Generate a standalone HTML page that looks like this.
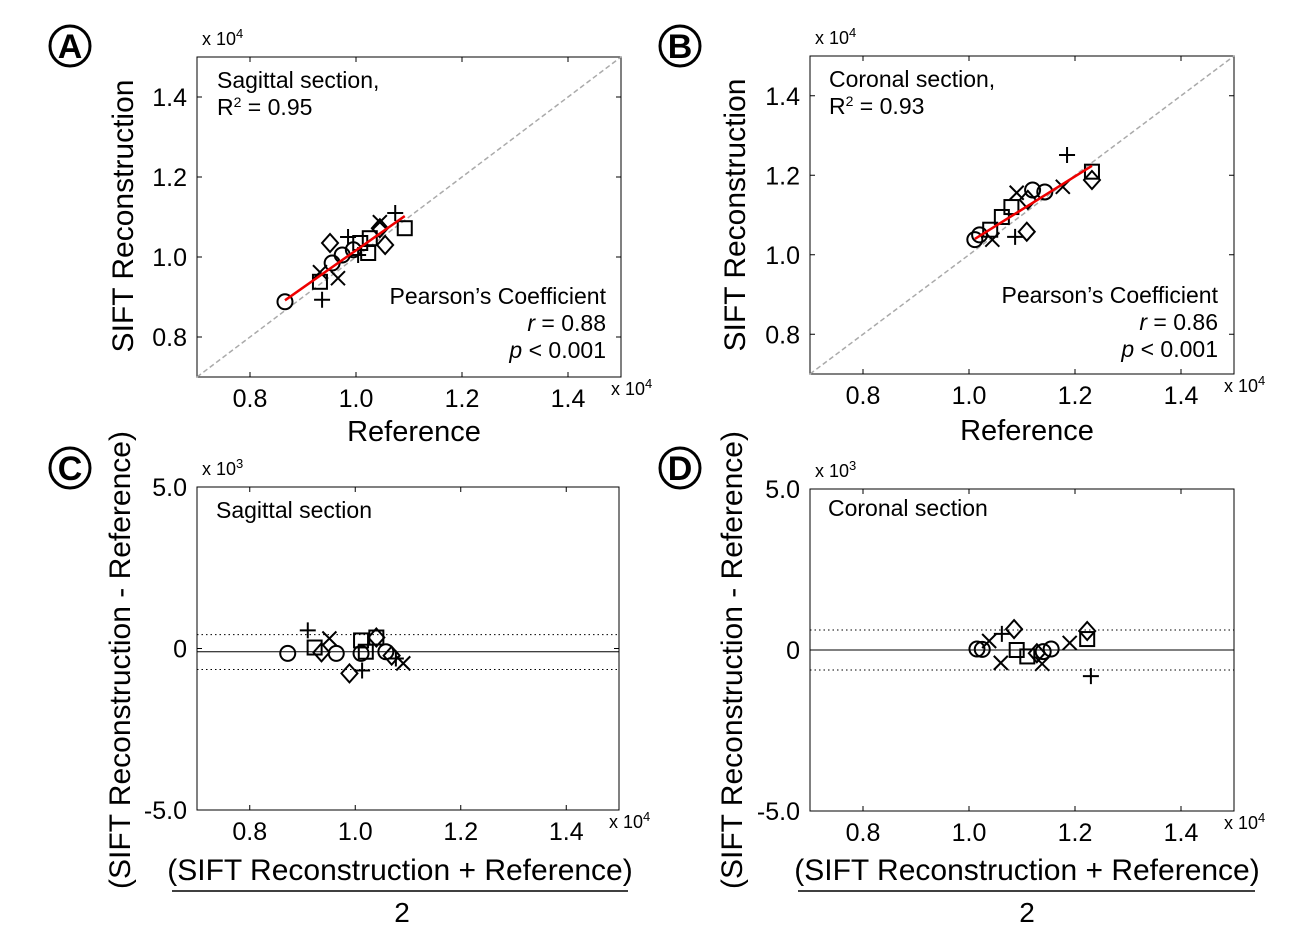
<!DOCTYPE html>
<html><head><meta charset="utf-8"><style>
body{margin:0;background:#fff}
svg{display:block;font-family:"Liberation Sans",sans-serif}
</style></head><body>
<svg id="s" width="1297" height="941" viewBox="0 0 1297 941"></svg>
<script>
// Panel A data (x1e4)
const aX=[0.866,0.936,0.932,0.932,0.966,0.955,0.974,0.951,0.985,1.008,1.004,1.023,1.055,1.026,1.045,1.074,1.092,1.045,0.995];
const aY=[0.888,0.893,0.938,0.962,0.947,0.985,1.005,1.035,1.050,1.035,1.005,1.010,1.030,1.047,1.087,1.110,1.072,1.072,1.018];
const aM=['o','+','s','x','x','o','o','d','+','s','+','s','d','s','x','+','s','d','o'];
// Panel B data
const bX=[1.011,1.04,1.044,1.087,1.109,1.062,1.09,1.111,1.143,1.177,1.185,1.232,1.232,1.12,1.02,1.08];
const bY=[1.038,1.063,1.038,1.045,1.058,1.095,1.156,1.138,1.158,1.171,1.251,1.209,1.188,1.163,1.05,1.12];
const bM=['o','s','x','+','d','s','x','d','o','x','+','s','d','o','o','s'];
// Panel C data (x1e4, y1e3)
const cX=[0.872,0.91,0.923,0.936,0.951,0.964,0.989,1.013,1.011,1.011,1.04,1.04,1.077,1.091,1.069,1.058,1.02];
const cY=[-0.15,0.56,0.03,-0.12,0.31,-0.15,-0.77,-0.68,0.25,-0.15,0.34,0.34,-0.31,-0.46,-0.22,-0.1,-0.1];
const cM=['o','+','s','d','x','o','d','+','s','o','d','s','+','x','d','o','s'];
const cMean=-0.1, cHi=0.43, cLo=-0.65;
// Panel D data
const dX=[1.015,1.038,1.062,1.085,1.06,1.09,1.128,1.138,1.14,1.19,1.223,1.223,1.23,1.155,1.025,1.11];
const dY=[0.03,0.28,0.5,0.65,-0.4,0.0,-0.1,-0.43,-0.05,0.22,0.59,0.34,-0.81,0.03,0.02,-0.2];
const dM=['o','x','+','d','x','s','d','x','o','x','d','s','+','o','o','s'];
const dMean=0.0, dHi=0.62, dLo=-0.62;
const xTicks=[0.8,1.0,1.2,1.4];

const S=document.getElementById('s');const NS='http://www.w3.org/2000/svg';
function el(t,a,p){const e=document.createElementNS(NS,t);for(const k in a)e.setAttribute(k,a[k]);(p||S).appendChild(e);return e;}
function txt(x,y,s,size,anchor,name,extra){const e=el('text',Object.assign({x:x,y:y,'font-size':size,'text-anchor':anchor||'start',fill:'#000'},extra||{}));e.innerHTML=s;

return e;}
function marker(g,m,x,y){let e;
 if(m==='o')e=el('circle',{cx:x,cy:y,r:7.5,fill:'none',stroke:'#000','stroke-width':2},g);
 else if(m==='s')e=el('rect',{x:x-7,y:y-7,width:14,height:14,fill:'none',stroke:'#000','stroke-width':2},g);
 else if(m==='d')e=el('path',{d:`M${x} ${y-9}L${x+8} ${y}L${x} ${y+9}L${x-8} ${y}Z`,fill:'none',stroke:'#000','stroke-width':2},g);
 else if(m==='+')e=el('path',{d:`M${x-8} ${y}H${x+8}M${x} ${y-8}V${y+8}`,stroke:'#000','stroke-width':2},g);
 else e=el('path',{d:`M${x-7} ${y-7}L${x+7} ${y+7}M${x+7} ${y-7}L${x-7} ${y+7}`,stroke:'#000','stroke-width':2},g);
 
 }
function panel(o){
 const g=el('g',{});
 
 
 const X=v=>o.x0+(v-0.7)/0.8*(o.x1-o.x0);
 const Y=v=>o.y1-(v-o.ymin)/(o.ymax-o.ymin)*(o.y1-o.y0);
 const box=el('rect',{x:o.x0,y:o.y0,width:o.x1-o.x0,height:o.y1-o.y0,fill:'none',stroke:'#000','stroke-width':1},g);
 
 xTicks.forEach(t=>{el('path',{d:`M${X(t)} ${o.y1}v-5M${X(t)} ${o.y0}v5`,stroke:'#000'},g);
  txt(X(t),o.y1+30,t.toFixed(1),25,'middle','x-tick-label');});
 o.yt.forEach((t,i)=>{el('path',{d:`M${o.x0} ${Y(t)}h5M${o.x1} ${Y(t)}h-5`,stroke:'#000'},g);
  txt(o.x0-10,Y(t)+9,o.ytl[i],25,'end','y-tick-label');});
 if(o.diag){const l=el('line',{x1:X(0.7),y1:Y(0.7),x2:X(1.5),y2:Y(1.5),stroke:'#aaa','stroke-width':1.5,'stroke-dasharray':'5,3'},g);
  }
 if(o.mean!==undefined){
  const m=el('line',{x1:o.x0,x2:o.x1,y1:Y(o.mean),y2:Y(o.mean),stroke:'#000','stroke-width':1},g);
  
  [o.hi,o.lo].forEach(v=>{const d=el('line',{x1:o.x0,x2:o.x1,y1:Y(v),y2:Y(v),stroke:'#000','stroke-width':1,'stroke-dasharray':'1.5,3'},g);
   });}
 o.xs.forEach((v,i)=>marker(g,o.ms[i],X(v),Y(o.ys[i])));
 if(o.diag){
  const n=o.xs.length,mx=o.xs.reduce((a,b)=>a+b)/n,my=o.ys.reduce((a,b)=>a+b)/n;
  let sxy=0,sxx=0;o.xs.forEach((v,i)=>{sxy+=(v-mx)*(o.ys[i]-my);sxx+=(v-mx)**2;});
  const b=sxy/sxx,a=my-b*mx,mn=Math.min(...o.xs),mxx=Math.max(...o.xs);
  const r=el('line',{x1:X(mn),y1:Y(a+b*mn),x2:X(mxx),y2:Y(a+b*mxx),stroke:'#e00','stroke-width':2.5},g);
  }
 txt(o.x1-10,o.y1+18,'x 10<tspan font-size="13" dy="-7">4</tspan>',18,'start','x-exponent');
 txt(o.x0+5,o.y0-12,'x 10<tspan font-size="13" dy="-7">'+o.ye+'</tspan>',18,'start','y-exponent');
 const c=el('circle',{cx:o.lx,cy:o.ly,r:20,fill:'none',stroke:'#000','stroke-width':3},g);
 
 txt(o.lx,o.ly+12,o.id,34,'middle','panel-label',{'font-weight':'bold'});
}
panel({id:'A',x0:197,x1:621,y0:57,y1:377,ymin:0.7,ymax:1.5,yt:[0.8,1.0,1.2,1.4],ytl:['0.8','1.0','1.2','1.4'],xs:aX,ys:aY,ms:aM,diag:1,ye:4,lx:70,ly:46});
panel({id:'B',x0:810,x1:1234,y0:56,y1:374,ymin:0.7,ymax:1.5,yt:[0.8,1.0,1.2,1.4],ytl:['0.8','1.0','1.2','1.4'],xs:bX,ys:bY,ms:bM,diag:1,ye:4,lx:680,ly:46});
panel({id:'C',x0:197,x1:619,y0:487,y1:810,ymin:-5,ymax:5,yt:[-5,0,5],ytl:['-5.0','0','5.0'],xs:cX,ys:cY,ms:cM,mean:cMean,hi:cHi,lo:cLo,ye:3,lx:70,ly:468});
panel({id:'D',x0:810,x1:1234,y0:489,y1:811,ymin:-5,ymax:5,yt:[-5,0,5],ytl:['-5.0','0','5.0'],xs:dX,ys:dY,ms:dM,mean:dMean,hi:dHi,lo:dLo,ye:3,lx:680,ly:468});
txt(217,88,'Sagittal section,',23,'start','annotation');
txt(217,115,'R<tspan font-size="14" dy="-8">2</tspan><tspan dy="8"> = 0.95</tspan>',23,'start','r-squared');
txt(606,304,'Pearson’s Coefficient',23,'end','annotation');
txt(606,331,'<tspan font-style="italic">r</tspan>  = 0.88',23,'end','pearson-r');
txt(606,358,'<tspan font-style="italic">p</tspan> &lt; 0.001',23,'end','p-value');
txt(829,87,'Coronal section,',23,'start','annotation');
txt(829,114,'R<tspan font-size="14" dy="-8">2</tspan><tspan dy="8"> = 0.93</tspan>',23,'start','r-squared');
txt(1218,303,'Pearson’s Coefficient',23,'end','annotation');
txt(1218,330,'<tspan font-style="italic">r</tspan>  = 0.86',23,'end','pearson-r');
txt(1218,357,'<tspan font-style="italic">p</tspan> &lt; 0.001',23,'end','p-value');
txt(216,518,'Sagittal section',23,'start','annotation');
txt(828,516,'Coronal section',23,'start','annotation');
txt(414,441,'Reference',29,'middle','x-axis-title');
txt(1027,440,'Reference',29,'middle','x-axis-title');
txt(133,216,'SIFT Reconstruction',30,'middle','y-axis-title',{transform:'rotate(-90 133 216)'});
txt(745,215,'SIFT Reconstruction',30,'middle','y-axis-title',{transform:'rotate(-90 745 215)'});
txt(130,660,'(SIFT Reconstruction  - Reference)',30,'middle','y-axis-title',{transform:'rotate(-90 130 660)'});
txt(742,660,'(SIFT Reconstruction  - Reference)',30,'middle','y-axis-title',{transform:'rotate(-90 742 660)'});
txt(400,880,'(SIFT Reconstruction  + Reference)',30,'middle','x-axis-title');
txt(1027,880,'(SIFT Reconstruction  + Reference)',30,'middle','x-axis-title');
el('line',{x1:172,x2:628,y1:891,y2:891,stroke:'#000','stroke-width':1.5});
el('line',{x1:798,x2:1255,y1:891,y2:891,stroke:'#000','stroke-width':1.5});
txt(402,922,'2',28,'middle','x-axis-denominator');
txt(1027,922,'2',28,'middle','x-axis-denominator');
</script>
</body></html>
